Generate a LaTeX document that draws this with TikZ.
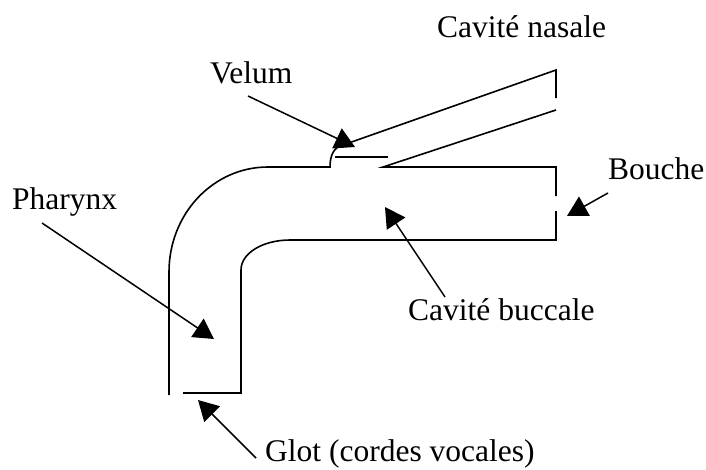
\documentclass[tikz,border=0pt]{standalone}
\usepackage{fontspec}
\setmainfont{Liberation Serif}
\usetikzlibrary{arrows.meta}
\begin{document}
\begin{tikzpicture}[x=1pt,y=-1pt,
  tract/.style={line width=1.6pt,line join=miter},
  pointer/.style={line width=1.5pt,-{Triangle[length=20pt,width=22pt]}},
  label/.style={anchor=base west,inner sep=0pt,font=\fontsize{31.5}{37}\selectfont}]
\useasboundingbox (0,0) rectangle (706,469);

% labels
\node[label] (nasale) at (437,37) {Cavité nasale};
\node[label] (velum) at (210,83) {Velum};
\node[label] (bouche) at (608,179) {Bouche};
\node[label] (pharynx) at (12,209) {Pharynx};
\node[label] (buccale) at (408,320) {Cavité buccale};
\node[label] (glot) at (265,461) {Glot (cordes vocales)};

% vocal tract: outer wall, velum and nasal passage
\draw[tract] (169,395) -- (169,272)
  .. controls (169,214) and (213,167) .. (268,167) -- (330,167)
  .. controls (330,155) and (334,147) .. (343,145) -- (556,70) -- (556,98);
\draw[tract] (335,157) -- (388,157);
\draw[tract] (556,110) -- (383,167) -- (556,167) -- (556,196);
% inner wall: mouth opening down to the glottis
\draw[tract] (556,211) -- (556,240) -- (290,240)
  .. controls (263,240) and (241,253) .. (241,270) -- (241,393) -- (183,393);

% pointer anchors
\coordinate (velumS) at (248,96);
\coordinate (velumT) at (355,147);
\coordinate (boucheS) at (608,193);
\coordinate (boucheT) at (567,216);
\coordinate (pharynxS) at (42,223);
\coordinate (pharynxT) at (214,339);
\coordinate (buccaleS) at (445,297);
\coordinate (buccaleT) at (385,207);
\coordinate (glotS) at (256,458);
\coordinate (glotT) at (198,400);

\draw[pointer] (velumS) -- (velumT);
\draw[pointer] (boucheS) -- (boucheT);
\draw[pointer] (pharynxS) -- (pharynxT);
\draw[pointer] (buccaleS) -- (buccaleT);
\draw[pointer] (glotS) -- (glotT);
\end{tikzpicture}
\end{document}
